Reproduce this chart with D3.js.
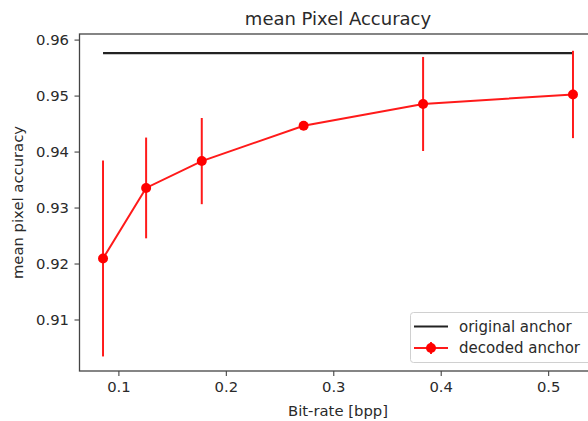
<!DOCTYPE html>
<html><head><meta charset="utf-8">
<script src="https://cdn.jsdelivr.net/npm/d3@7"></script>
<style>
body{margin:0;background:#fff;}
svg{display:block;font-family:"DejaVu Sans",sans-serif;}
</style></head>
<body><svg id="c" width="588" height="421"></svg>
<script>
const bitrate = [0.0857, 0.1258, 0.1776, 0.2724, 0.3836, 0.5231];
const decodedAcc = [0.9209, 0.9335, 0.9383, 0.9446, 0.9485, 0.9502];
const decodedErr = [0.0175, 0.0090, 0.0077, 0.0004, 0.0084, 0.0078];
const originalAcc = 0.9576;
const xTicks = [0.1, 0.2, 0.3, 0.4, 0.5];
const yTicks = [0.91, 0.92, 0.93, 0.94, 0.95, 0.96];
const seriesNames = ["original anchor", "decoded anchor"];

const svg = d3.select("#c");
const L = 79.5, R = 596.5, T = 34, B = 371;
const x = d3.scaleLinear().domain([0.0638, 0.545]).range([L, R]);
const y = d3.scaleLinear().domain([0.9008, 0.961]).range([B, T]);
const ink = "#2a2a2a";

// spines
svg.append("rect").attr("x", L).attr("y", T).attr("width", R - L).attr("height", B - T)
  .attr("fill", "none").attr("stroke", "#444").attr("stroke-width", 1.3);

// axes
const xa = svg.append("g").attr("transform", `translate(0,${B})`)
  .call(d3.axisBottom(x).tickValues(xTicks).tickFormat(d3.format(".1f")).tickSizeOuter(0).tickSize(5).tickPadding(5));
const ya = svg.append("g").attr("transform", `translate(${L},0)`)
  .call(d3.axisLeft(y).tickValues(yTicks).tickFormat(d3.format(".2f")).tickSizeOuter(0).tickSize(5).tickPadding(5.5));
[xa, ya].forEach(a => {
  a.select(".domain").remove();
  a.selectAll("line").attr("stroke", "#444").attr("stroke-width", 1.1);
  a.selectAll("text").attr("fill", ink).attr("font-size", 14.8).attr("font-family", "DejaVu Sans");
});

// original anchor line
svg.append("line")
  .attr("x1", x(bitrate[0])).attr("x2", x(bitrate[bitrate.length - 1]))
  .attr("y1", y(originalAcc)).attr("y2", y(originalAcc))
  .attr("stroke", "#222").attr("stroke-width", 2.2);

// error bars
svg.append("g").selectAll("line").data(bitrate).join("line")
  .attr("x1", d => x(d)).attr("x2", d => x(d))
  .attr("y1", (d, i) => y(decodedAcc[i] - decodedErr[i]))
  .attr("y2", (d, i) => y(decodedAcc[i] + decodedErr[i]))
  .attr("stroke", "#ff1a1a").attr("stroke-width", 2);

// decoded line
const pts = bitrate.map((d, i) => [d, decodedAcc[i]]);
svg.append("path").datum(pts)
  .attr("d", d3.line().x(d => x(d[0])).y(d => y(d[1])))
  .attr("fill", "none").attr("stroke", "#ff1a1a").attr("stroke-width", 2);
svg.append("g").selectAll("circle").data(pts).join("circle")
  .attr("cx", d => x(d[0])).attr("cy", d => y(d[1])).attr("r", 5)
  .attr("fill", "#ff0000");

// title & labels
svg.append("text").attr("x", (L + R) / 2).attr("y", 25).attr("text-anchor", "middle")
  .attr("font-size", 18).attr("fill", ink).text("mean Pixel Accuracy");
svg.append("text").attr("x", (L + R) / 2).attr("y", 416).attr("text-anchor", "middle")
  .attr("font-size", 14.8).attr("fill", ink).text("Bit-rate [bpp]");
svg.append("text").attr("transform", `translate(23,${(T + B) / 2}) rotate(-90)`)
  .attr("text-anchor", "middle").attr("font-size", 14.8).attr("fill", ink).text("mean pixel accuracy");

// legend
const lg = svg.append("g");
lg.append("rect").attr("x", 410.5).attr("y", 312.5).attr("width", 190).attr("height", 50).attr("rx", 3)
  .attr("fill", "#fff").attr("fill-opacity", 0.85).attr("stroke", "#d0d0d0").attr("stroke-width", 1);
const rows = [326.5, 348];
lg.append("line").attr("x1", 414).attr("x2", 448).attr("y1", rows[0]).attr("y2", rows[0])
  .attr("stroke", "#222").attr("stroke-width", 2.2);
lg.append("line").attr("x1", 414).attr("x2", 448).attr("y1", rows[1]).attr("y2", rows[1])
  .attr("stroke", "#ff1a1a").attr("stroke-width", 2);
lg.append("line").attr("x1", 431).attr("x2", 431).attr("y1", rows[1] - 6).attr("y2", rows[1] + 6)
  .attr("stroke", "#ff1a1a").attr("stroke-width", 2);
lg.append("circle").attr("cx", 431).attr("cy", rows[1]).attr("r", 5).attr("fill", "#ff0000");
seriesNames.forEach((n, i) => {
  lg.append("text").attr("x", 459).attr("y", rows[i]).attr("dy", "0.35em")
    .attr("font-size", 15).attr("fill", ink).text(n);
});
</script></body></html>
